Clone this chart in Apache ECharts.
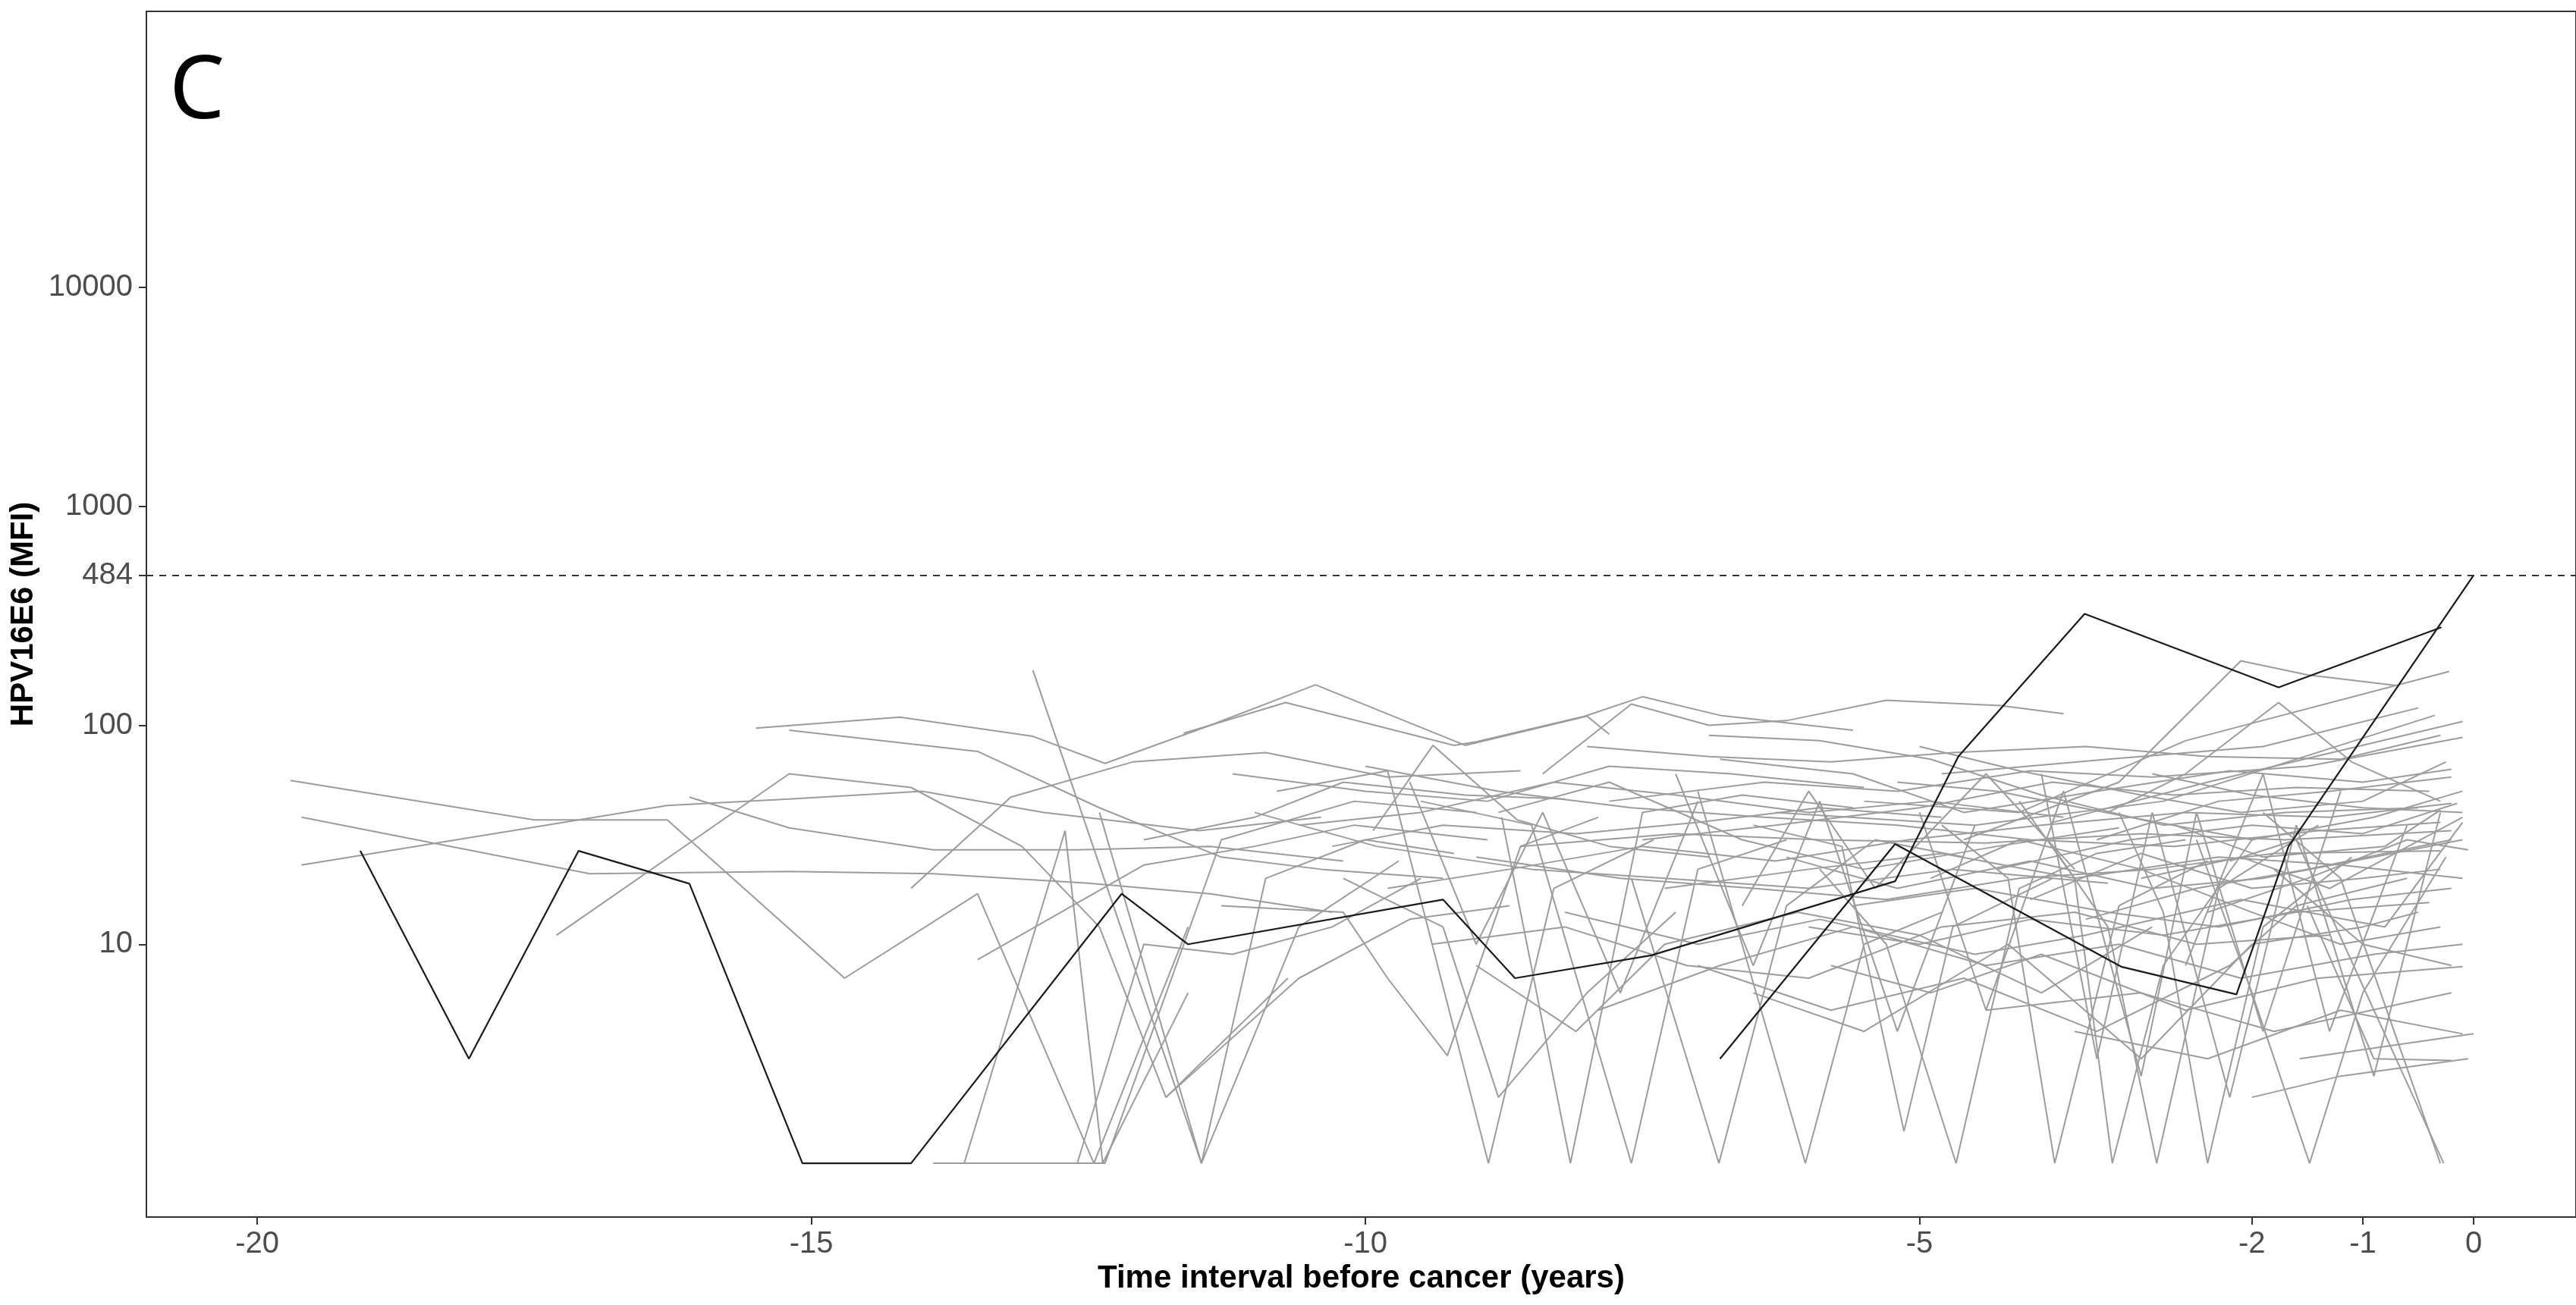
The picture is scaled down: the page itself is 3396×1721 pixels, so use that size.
<!DOCTYPE html>
<html>
<head>
<meta charset="utf-8">
<script src="https://cdn.jsdelivr.net/npm/echarts@6/dist/echarts.min.js"></script>
<style>
html,body{margin:0;padding:0;background:#fff;}
#chart{width:3396px;height:1721px;}
</style>
</head>
<body>
<div id="chart"></div>
<script>
// ---- tick labels / reference values ----
const xTicks = [-20, -15, -10, -5, -2, -1, 0];
const yTicks = [10, 100, 484, 1000, 10000];
const threshold = 484;
const panelLabel = 'C';
const xTitle = 'Time interval before cancer (years)';
const yTitle = 'HPV16E6 (MFI)';

// ---- highlighted (black) trajectories: [years before cancer, MFI] ----
const blackA = [[-19.07,26.7],[-18.09,3.0],[-17.1,26.7],[-16.1,18.9],[-15.08,1],[-14.1,1],[-12.2,17],[-11.6,10],[-9.3,16],[-8.65,7],[-7.42,8.9],[-5.22,19.4],[-4.65,72],[-3.51,323],[-1.76,149],[-0.29,280]];
const blackB = [[-6.8,3.0],[-5.22,28.7],[-3.18,7.9],[-2.14,5.9],[-1.67,28],[0,484]];

// ---- other (grey) trajectories ----
const greyLines = [
  [[-19.7,56],[-17.5,37],[-16.3,37],[-14.7,7],[-13.5,17],[-12.45,1],[-11.6,12]],
  [[-19.6,38],[-17.0,21],[-15.2,21.5],[-13.9,21],[-12.5,19],[-11.4,17],[-10.3,14]],
  [[-19.6,23],[-16.3,43],[-15.2,46],[-14.0,50],[-12.9,40],[-11.5,33],[-10.4,38]],
  [[-17.3,11],[-15.2,60],[-14.1,52],[-13.1,28],[-12.4,12],[-11.8,2],[-10.7,7]],
  [[-16.1,47],[-15.2,34],[-13.9,27],[-12.6,27],[-11.4,28],[-10.2,24]],
  [[-15.5,97],[-14.2,109],[-13.0,89],[-12.35,67],[-11.4,100],[-10.45,153],[-9.1,81],[-8.0,110],[-7.8,91]],
  [[-15.2,95],[-13.5,76],[-12.4,42],[-11.3,25],[-10.4,22],[-9.3,20]],
  [[-13.0,178],[-11.48,1],[-10.6,12],[-9.7,24]],
  [[-13.62,1],[-12.71,33],[-12.37,1],[-11.6,6]],
  [[-14.1,18],[-13.2,47],[-12.1,68],[-10.9,75],[-9.8,58],[-8.6,62]],
  [[-13.9,1],[-12.35,1],[-11.3,30],[-10.1,45],[-9.0,40]],
  [[-13.5,8.5],[-12.0,23],[-11.0,28],[-10.1,35],[-8.9,30]],
  [[-11.8,2],[-10.6,7],[-9.6,13],[-8.7,15]],
  [[-11.64,92],[-10.72,127],[-9.2,81],[-9.0,84],[-8.02,110],[-7.5,135],[-6.8,111],[-5.6,95]],
  [[-12.4,40],[-11.48,1],[-10.9,20],[-10.0,30],[-9.2,26]],
  [[-11.3,15],[-10.2,14],[-9.8,7],[-9.26,3.1],[-8.6,28],[-7.9,38]],
  [[-9.93,33],[-9.39,81],[-8.63,37],[-7.8,28],[-6.9,25]],
  [[-10.8,50],[-9.8,62],[-8.89,1],[-8.3,18],[-7.4,30]],
  [[-10.2,20],[-9.3,12],[-8.8,2],[-8.0,6],[-7.2,14]],
  [[-8.77,38],[-8.15,1],[-7.5,40],[-6.6,48],[-5.6,42]],
  [[-9.5,45],[-8.5,35],[-7.6,1],[-7.0,22],[-6.2,30]],
  [[-8.4,60],[-7.6,125],[-6.9,100],[-6.2,105],[-5.3,130],[-4.27,123],[-3.7,113]],
  [[-7.6,20],[-6.81,1],[-6.2,15],[-5.4,30],[-4.6,25]],
  [[-7.0,50],[-6.03,1],[-5.5,10],[-4.8,14]],
  [[-6.5,35],[-5.7,28],[-5.14,1.4],[-4.7,12],[-3.8,20]],
  [[-5.9,22],[-5.3,10],[-4.67,1],[-4.1,18],[-3.4,26],[-2.6,30]],
  [[-4.8,35],[-4.2,20],[-3.78,1],[-3.2,15],[-2.4,24]],
  [[-4.1,45],[-3.6,20],[-3.26,1],[-2.8,8],[-2.0,30]],
  [[-3.8,28],[-3.3,12],[-2.86,1],[-2.3,18],[-1.4,35]],
  [[-3.2,40],[-2.8,14],[-2.4,1],[-1.9,12],[-1.1,25]],
  [[-2.5,30],[-2.0,6],[-1.48,1],[-1.0,6],[-0.25,25]],
  [[-2.2,24],[-1.6,30],[-0.27,1]],
  [[-1.9,40],[-1.2,20],[-0.3,1]],
  [[-5.5,45],[-4.1,40],[-2.6,85],[-0.22,176]],
  [[-4.6,30],[-3.2,55],[-2.1,197],[-1.5,170],[-0.7,152]],
  [[-3.3,40],[-2.6,60],[-1.76,127],[-1.1,68],[-0.3,45]],
  [[-4.8,60],[-3.3,70],[-1.9,80],[-0.5,120]],
  [[-3.8,36],[-2.4,55],[-0.1,104]],
  [[-6.3,40],[-4.5,35],[-2.8,45],[-0.35,111]],
  [[-7.8,45],[-6.4,55],[-5.2,50],[-4.0,62],[-2.9,58],[-1.5,65],[-0.1,88]],
  [[-8.6,28],[-7.2,32],[-5.9,30],[-4.4,29],[-3.0,32],[-1.7,30],[-0.2,33]],
  [[-7.3,18],[-6.0,22],[-4.8,26],[-3.6,20],[-2.3,25],[-1.2,23],[-0.1,20]],
  [[-6.0,12],[-5.0,10],[-4.0,13],[-2.8,11],[-1.6,14],[-0.4,15.5]],
  [[-5.8,8],[-4.9,6],[-3.9,9],[-2.6,5],[-1.4,7],[-0.1,7.9]],
  [[-4.4,5],[-3.0,6],[-1.8,4],[-0.2,6]],
  [[-3.6,4],[-2.4,3],[-1.2,5],[-0.1,3.9]],
  [[-2.0,2],[-1.2,2.5],[-0.05,3.0]],
  [[-1.5,15],[-0.9,3],[-0.2,2.95]],
  [[-9.0,25],[-7.7,20],[-6.5,18],[-5.3,16],[-4.1,20],[-2.9,22],[-1.8,26],[-0.3,26.7]],
  [[-6.8,70],[-5.6,60],[-4.6,40],[-3.4,50],[-2.2,62],[-1.0,55],[-0.2,63]],
  [[-5.0,80],[-4.1,62],[-3.0,48],[-2.1,40],[-1.0,45],[-0.25,68]],
  [[-8.2,14],[-7.0,10],[-5.9,13],[-4.5,9],[-3.5,11],[-2.1,16],[-0.8,12],[-0.1,36]],
  [[-3.0,20],[-2.1,25],[-1.3,18],[-0.1,38]],
  [[-2.7,35],[-1.9,25],[-0.8,28],[-0.3,41]],
  [[-4.3,22],[-3.1,30],[-2.0,35],[-1.0,32],[-0.15,44]],
  [[-3.5,13],[-2.5,18],[-1.5,22],[-0.2,30]],
  [[-7.0,8],[-5.8,5],[-4.6,7],[-3.4,4],[-2.2,8],[-1.6,15],[-0.6,20]],
  [[-10.0,65],[-8.8,50],[-7.6,42],[-6.4,38],[-5.2,35],[-4.0,30],[-2.7,28],[-1.4,33],[-0.3,36]],
  [[-11.0,40],[-9.9,28],[-8.5,22],[-7.3,20],[-6.0,18],[-4.7,22],[-3.3,19]],
  [[-9.4,10],[-8.2,12],[-7.1,8],[-6.0,7],[-4.8,12],[-3.6,14],[-2.5,10],[-1.3,11]],
  [[-6.5,6],[-5.5,4],[-4.2,10],[-3.0,3],[-2.0,10],[-1.0,12],[-0.5,14]],
  [[-12.6,1],[-12.0,10],[-11.2,9],[-10.3,12],[-9.5,20]],
  [[-1.57,3],[0,3.9]],
  [[-11.2,60],[-10.0,50],[-8.9,45],[-7.8,65],[-6.7,60],[-5.5,52]],
  [[-10.6,35],[-9.5,40],[-8.3,55],[-7.2,48],[-6.0,40],[-4.9,45],[-3.7,38]],
  [[-9.8,18],[-8.7,22],[-7.5,28],[-6.3,24],[-5.1,30],[-3.9,35],[-2.6,40],[-1.3,38],[-0.2,44]],
  [[-8.0,80],[-6.9,72],[-5.8,68],[-4.7,75],[-3.5,80],[-2.4,72],[-1.2,70],[-0.3,90]],
  [[-7.5,30],[-6.3,35],[-5.0,42],[-3.8,55],[-2.7,48],[-1.6,52],[-0.4,50]],
  [[-6.2,25],[-5.2,18],[-4.0,24],[-2.9,18],[-1.9,20],[-0.9,25],[-0.1,30]],
  [[-5.6,15],[-4.5,18],[-3.3,14],[-2.3,12],[-1.1,16],[-0.2,18]],
  [[-5.2,55],[-4.3,50],[-3.1,38],[-2.0,30],[-0.9,38],[-0.1,50]],
  [[-4.0,16],[-3.0,26],[-2.0,18],[-1.0,20],[-0.3,22]],
  [[-7.9,5],[-6.8,8],[-5.6,12],[-4.4,8],[-3.2,10],[-2.1,7],[-0.9,9],[-0.1,10]],
  [[-9.0,8],[-8.1,4],[-7.3,10],[-6.1,14],[-5.0,11],[-3.9,6],[-2.9,12]],
  [[-6.9,90],[-5.9,85],[-4.9,70],[-3.9,48],[-2.8,35],[-1.7,40],[-0.5,42]],
  [[-3.4,30],[-2.3,45],[-1.3,50],[-0.2,58]],
  [[-2.9,60],[-2.0,48],[-1.0,42],[-0.1,40]],
  [[-2.4,14],[-1.5,20],[-0.6,30],[-0.05,27]],
  [[-1.8,22],[-1.0,10],[-0.2,8]],
  [[-4.9,20],[-4.1,30],[-3.0,22],[-2.0,14],[-1.2,10],[-0.3,12]],
  [[-8.8,40],[-7.8,55],[-6.6,30],[-5.5,22],[-4.3,28],[-3.2,34]],
  [[-10.3,28],[-9.3,35],[-8.1,32],[-7.0,36],[-5.9,42],[-4.8,38]],
  [[-12.0,30],[-11.0,38],[-10.2,55],[-9.1,48],[-8.2,46]],
  [[-9.6,55],[-9.0,10],[-8.4,40],[-7.7,6],[-7.0,45]],
  [[-7.2,60],[-6.5,8],[-5.9,45],[-5.2,4],[-4.5,35]],
  [[-5.0,40],[-4.4,5],[-3.7,50],[-3.0,2.5],[-2.5,40],[-1.9,4],[-1.2,50]],
  [[-3.9,60],[-3.4,3],[-2.9,40],[-2.2,2],[-1.6,35],[-0.9,2.5],[-0.3,40]],
  [[-2.6,8],[-1.9,60],[-1.3,4],[-0.6,35]],
  [[-6.6,15],[-6.0,50],[-5.4,18],[-4.4,60],[-3.6,22]]
];

const GREY = '#9c9c9c';
const BLACK = '#1a1a1a';
const AXIS = '#333333';
const FONT = 'Liberation Sans, Arial, sans-serif';

const chart = echarts.init(document.getElementById('chart'), null, {renderer: 'canvas'});

const series = greyLines.map((d, i) => ({
  type: 'line', name: 'g' + i, data: d, showSymbol: false, symbol: 'none',
  lineStyle: {color: GREY, width: 2}, silent: true, z: 2, animation: false
}));
series.push({
  type: 'line', name: 'blackA', data: blackA, symbol: 'none', silent: true, z: 3, animation: false,
  lineStyle: {color: BLACK, width: 2.2},
  markLine: {
    silent: true, symbol: 'none', animation: false,
    label: {show: false},
    lineStyle: {color: AXIS, type: [9, 8], width: 1.8},
    data: [{yAxis: threshold}]
  }
});
series.push({
  type: 'line', name: 'blackB', data: blackB, symbol: 'none', silent: true, z: 3, animation: false,
  lineStyle: {color: BLACK, width: 2.2}
});

chart.setOption({
  animation: false,
  backgroundColor: '#ffffff',
  grid: {left: 193, right: -3, top: 15, bottom: 116, show: true, borderColor: AXIS, borderWidth: 2, backgroundColor: 'transparent'},
  xAxis: {
    type: 'value', min: -21, max: 0.924,
    axisLine: {show: true, onZero: false, lineStyle: {color: AXIS, width: 2}},
    axisTick: {show: true, length: 10, lineStyle: {color: AXIS, width: 2}, customValues: xTicks},
    axisLabel: {show: true, customValues: xTicks, color: '#4d4d4d', fontSize: 40, fontFamily: FONT, margin: 16},
    splitLine: {show: false},
    name: xTitle, nameLocation: 'middle', nameGap: 58,
    nameTextStyle: {color: '#000', fontSize: 42, fontWeight: 'bold', fontFamily: FONT}
  },
  yAxis: {
    type: 'log', logBase: 10, min: 0.568, max: 182000,
    axisLine: {show: true, onZero: false, lineStyle: {color: AXIS, width: 2}},
    axisTick: {show: true, length: 10, lineStyle: {color: AXIS, width: 2}, customValues: yTicks},
    axisLabel: {show: true, customValues: yTicks, color: '#4d4d4d', fontSize: 40, fontFamily: FONT, margin: 18,
      formatter: v => String(Math.round(v))},
    splitLine: {show: false},
    minorTick: {show: false},
    name: yTitle, nameLocation: 'middle', nameGap: 132,
    nameTextStyle: {color: '#000', fontSize: 42, fontWeight: 'bold', fontFamily: FONT}
  },
  graphic: [{
    type: 'text', left: 223, top: 65, z: 10,
    style: {text: panelLabel, fill: '#000', font: '116px "Noto Sans", sans-serif'}
  }],
  series: series
});
</script>
</body>
</html>
